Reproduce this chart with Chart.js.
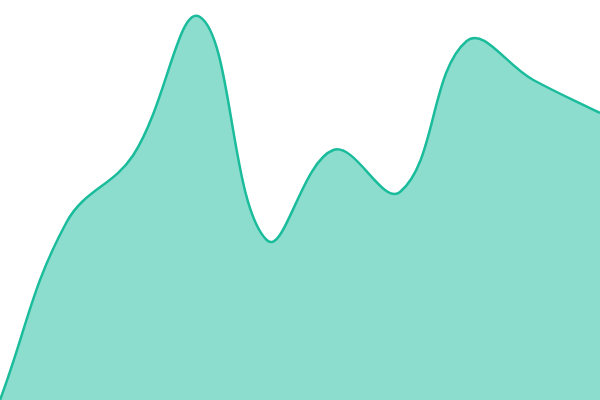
<!DOCTYPE html>
<html>
<head>
<meta charset="utf-8">
<script src="https://cdn.jsdelivr.net/npm/chart.js@4"></script>
<style>
  html, body { margin: 0; padding: 0; background: #fff; }
  #wrap { width: 600px; height: 400px; }
</style>
</head>
<body>
<div id="wrap"><canvas id="area"></canvas></div>
<script>
var labels = ['1', '2', '3', '4', '5', '6', '7', '8', '9', '10'];
var values = [0, 178, 245, 383, 160, 250, 208, 359, 320, 287];
var yMin = 0;
var yMax = 400;

new Chart(document.getElementById('area'), {
  type: 'line',
  data: {
    labels: labels,
    datasets: [
      {
        data: values,
        borderColor: '#1abc9c',
        backgroundColor: 'rgba(26, 188, 156, 0.5)',
        borderWidth: 2.5,
        fill: 'origin',
        tension: 0.4,
        pointRadius: 0,
      },
    ],
  },
  options: {
    responsive: true,
    maintainAspectRatio: false,
    animation: false,
    layout: { padding: 0 },
    plugins: { legend: { display: false }, tooltip: { enabled: false } },
    scales: {
      x: { display: false, offset: false },
      y: { display: false, min: yMin, max: yMax },
    },
  },
});
</script>
</body>
</html>
